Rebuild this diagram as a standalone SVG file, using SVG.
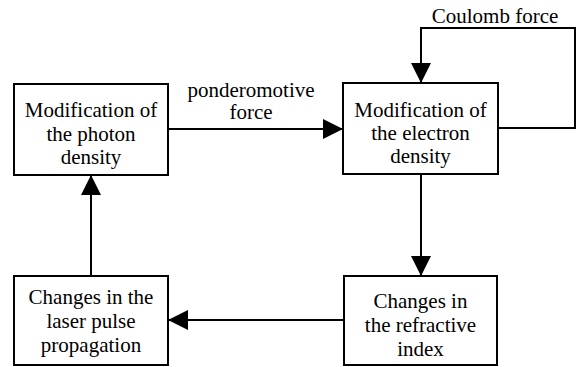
<svg xmlns="http://www.w3.org/2000/svg" width="581" height="367" viewBox="0 0 581 367">
<style>
.box{fill:#fff;stroke:#000;stroke-width:2}
.c{fill:none;stroke:#000;stroke-width:2}
</style>
<defs>
<marker id="ah" markerWidth="20" markerHeight="20" refX="20" refY="10" orient="auto" markerUnits="userSpaceOnUse" viewBox="0 0 20 20">
<path d="M0,0 L20,10 L0,20 Z" fill="#000"/>
</marker>
</defs>
<rect width="581" height="367" fill="#fff"/>
<g font-family="Liberation Serif" font-size="21" fill="#000" text-anchor="middle">
<g id="connectors">
<path class="c" d="M168,129 L343,129" marker-end="url(#ah)"/>
<path class="c" d="M498,128 L575,128 L575,28 L421,28 L421,83" marker-end="url(#ah)"/>
<path class="c" d="M421,174 L421,276" marker-end="url(#ah)"/>
<path class="c" d="M344,320 L168,320" marker-end="url(#ah)"/>
<path class="c" d="M91,276 L91,175" marker-end="url(#ah)"/>
<text x="251" y="97">ponderomotive</text>
<text x="251" y="119">force</text>
<text x="495" y="23">Coulomb force</text>
</g>
<g id="photon">
<rect class="box" x="14" y="84" width="154" height="91"/>
<text x="91" y="117">Modification of</text>
<text x="91" y="141">the photon</text>
<text x="91" y="164">density</text>
</g>
<g id="electron">
<rect class="box" x="343" y="83" width="155" height="91"/>
<text x="420.5" y="117">Modification of</text>
<text x="420.5" y="140">the electron</text>
<text x="420.5" y="163">density</text>
</g>
<g id="laser">
<rect class="box" x="14" y="276" width="154" height="89"/>
<text x="91" y="304">Changes in the</text>
<text x="91" y="328">laser pulse</text>
<text x="91" y="352">propagation</text>
</g>
<g id="refractive">
<rect class="box" x="344" y="276" width="153" height="89"/>
<text x="420.5" y="308">Changes in</text>
<text x="420.5" y="332">the refractive</text>
<text x="420.5" y="356">index</text>
</g>
</g>
</svg>
